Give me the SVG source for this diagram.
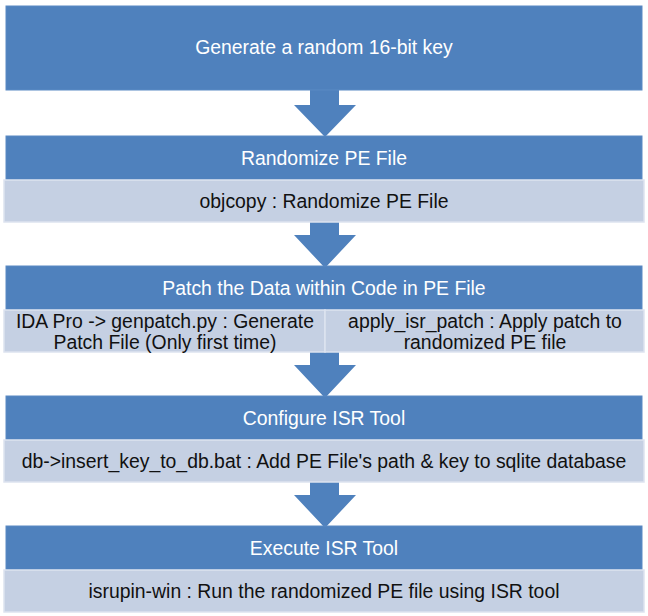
<svg xmlns="http://www.w3.org/2000/svg" width="648" height="616" viewBox="0 0 648 616">
<style>
.hdr{fill:#4F81BD;stroke:#5B8AC4;stroke-width:1}
.sub{fill:#C5D0E3;stroke:#DDE3EF;stroke-width:1.5}
.arr{fill:#4F81BD}
.t{font-family:"Liberation Sans",Arial,sans-serif;font-size:19.4px;text-anchor:middle;dominant-baseline:central}
.w{fill:#FFFFFF}
.k{fill:#111111}
</style>
<rect width="648" height="616" fill="#FFFFFF"/>
<g id="connectors">
<path class="arr" d="M310,90 H339 V105 H356 L325,137 L294,105 H310 Z"/>
<path class="arr" d="M310,222 H339 V235 H356 L325,268 L294,235 H310 Z"/>
<path class="arr" d="M310,352 H339 V365 H356 L325,398 L294,365 H310 Z"/>
<path class="arr" d="M310,482 H339 V495 H356 L325,528 L294,495 H310 Z"/>
</g>
<g id="n1">
<rect class="hdr" x="6" y="6" width="636" height="84"/>
<text class="t w" x="324" y="47">Generate a random 16-bit key</text>
</g>
<g id="n2">
<rect class="hdr" x="6" y="136" width="636" height="44"/>
<text class="t w" x="324" y="158">Randomize PE File</text>
<rect class="sub" x="4" y="180" width="640" height="42"/>
<text class="t k" x="324" y="201">objcopy : Randomize PE File</text>
</g>
<g id="n3">
<rect class="hdr" x="6" y="266" width="636" height="44"/>
<text class="t w" x="324" y="288">Patch the Data within Code in PE File</text>
<rect class="sub" x="4" y="310" width="321" height="42"/>
<rect class="sub" x="325" y="310" width="319" height="42"/>
<text class="t k" x="165" y="321">IDA Pro -&gt; genpatch.py : Generate</text>
<text class="t k" x="165" y="342">Patch File (Only first time)</text>
<text class="t k" x="485" y="321">apply_isr_patch : Apply patch to</text>
<text class="t k" x="485" y="342">randomized PE file</text>
</g>
<g id="n4">
<rect class="hdr" x="6" y="396" width="636" height="44"/>
<text class="t w" x="324" y="418">Configure ISR Tool</text>
<rect class="sub" x="4" y="440" width="640" height="42"/>
<text class="t k" x="324" y="461">db-&gt;insert_key_to_db.bat : Add PE File's path &amp; key to sqlite database</text>
</g>
<g id="n5">
<rect class="hdr" x="6" y="526" width="636" height="44"/>
<text class="t w" x="324" y="548">Execute ISR Tool</text>
<rect class="sub" x="4" y="570" width="640" height="42"/>
<text class="t k" x="324" y="591">isrupin-win : Run the randomized PE file using ISR tool</text>
</g>
</svg>
